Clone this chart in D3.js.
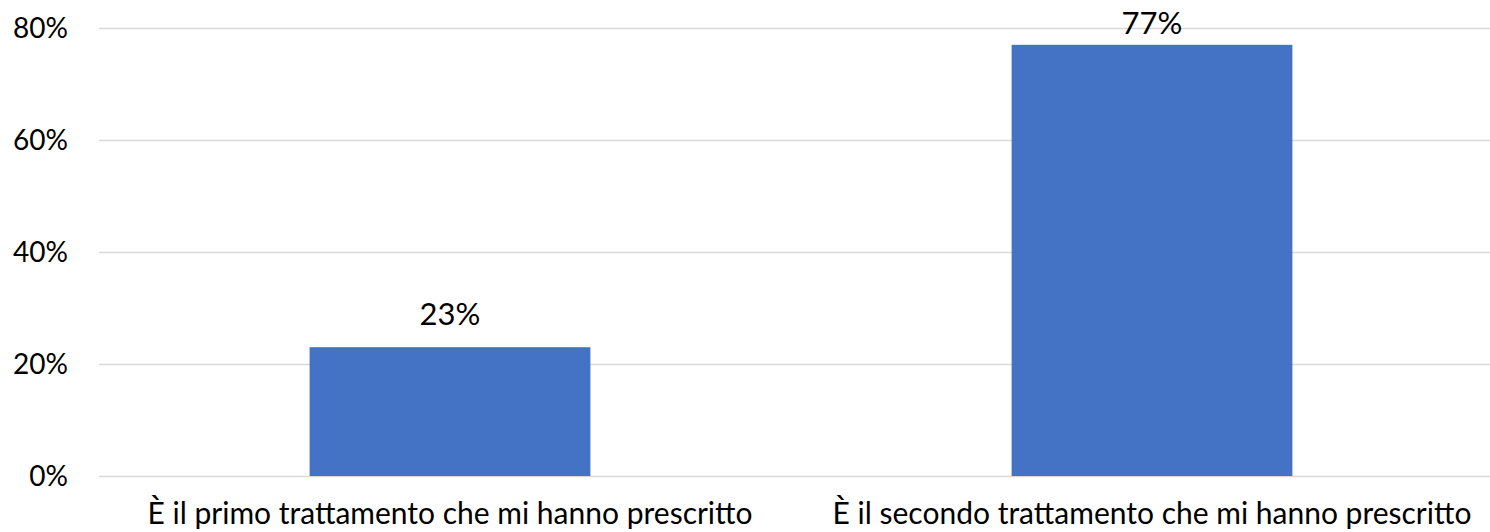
<!DOCTYPE html>
<html><head><meta charset="utf-8">
<script src="https://cdn.jsdelivr.net/npm/d3@7"></script>
<style>body{margin:0;background:#fff}svg{display:block}text{font-family:Lato,"Open Sans",sans-serif;fill:#000}</style>
</head><body><svg id="c" width="1490" height="532"></svg>
<script>
const categories = ["È il primo trattamento che mi hanno prescritto", "È il secondo trattamento che mi hanno prescritto"];
const values = [0.23, 0.77];
const yTicks = [0, 0.2, 0.4, 0.6, 0.8];

const svg = d3.select("#c");
const x = d3.scaleBand().domain(categories).range([99, 1503]).paddingInner(0.6).paddingOuter(0.3);
const y = d3.scaleLinear().domain([0, 0.8]).range([476, 28]);

svg.append("g").selectAll("line").data(yTicks).join("line")
  .attr("x1", 99).attr("x2", 1503)
  .attr("y1", d => y(d) + 0.5).attr("y2", d => y(d) + 0.5)
  .attr("stroke", "#d9d9d9").attr("stroke-width", 1.5);

svg.append("g").selectAll("text").data(yTicks).join("text")
  .attr("x", 68).attr("y", d => y(d)).attr("dy", "0.36em")
  .attr("text-anchor", "end").style("font-size", "28px")
  .text(d => d3.format(".0%")(d));

svg.append("g").selectAll("rect").data(values).join("rect")
  .attr("x", (d, i) => x(categories[i])).attr("width", x.bandwidth())
  .attr("y", d => y(d)).attr("height", d => y(0) - y(d))
  .attr("fill", "#4472c4");

svg.append("g").selectAll("text").data(values).join("text")
  .attr("x", (d, i) => x(categories[i]) + x.bandwidth() / 2)
  .attr("y", d => Math.max(y(d) - 22, 34))
  .attr("text-anchor", "middle").style("font-size", "31px")
  .text(d => d3.format(".0%")(d));

svg.append("g").selectAll("text").data(categories).join("text")
  .attr("x", d => x(d) + x.bandwidth() / 2).attr("y", 524)
  .attr("text-anchor", "middle").style("font-size", "30px")
  .text(d => d);
</script></body></html>
